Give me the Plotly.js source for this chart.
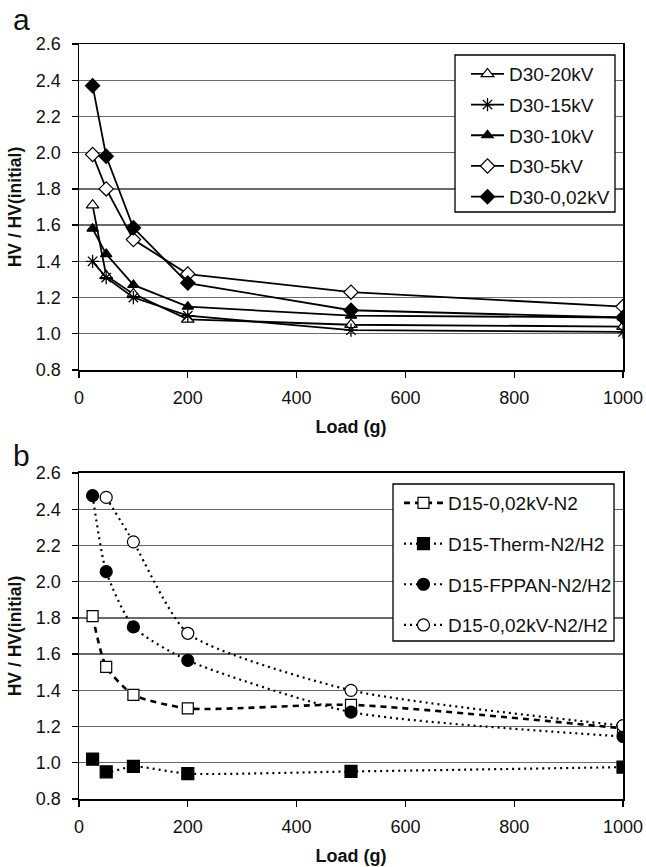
<!DOCTYPE html>
<html>
<head>
<meta charset="utf-8">
<script src="https://cdn.plot.ly/plotly-3.0.1.min.js"></script>
<style>html,body{margin:0;padding:0;background:#fff;}#chart{width:646px;height:867px;}</style>
</head>
<body>
<div id="chart"></div>
<script>
// Load values (g)
const loads = [25, 50, 100, 200, 500, 1000];

// Panel a series
const a_names = ["D30-20kV", "D30-15kV", "D30-10kV", "D30-5kV", "D30-0,02kV"];
const a_20kV  = [1.71, 1.32, 1.22, 1.08, 1.05, 1.04];
const a_15kV  = [1.40, 1.31, 1.20, 1.10, 1.02, 1.01];
const a_10kV  = [1.58, 1.44, 1.27, 1.15, 1.10, 1.09];
const a_5kV   = [1.99, 1.80, 1.52, 1.33, 1.23, 1.15];
const a_002kV = [2.37, 1.98, 1.585, 1.28, 1.13, 1.09];

// Panel b series
const b_names = ["D15-0,02kV-N2", "D15-Therm-N2/H2", "D15-FPPAN-N2/H2", "D15-0,02kV-N2/H2"];
const b_002kV_N2   = [1.81, 1.53, 1.375, 1.30, 1.32, 1.19];
const b_Therm      = [1.02, 0.95, 0.98, 0.94, 0.952, 0.976];
const b_FPPAN      = [2.475, 2.055, 1.75, 1.565, 1.28, 1.145];
const loads_b4     = [50, 100, 200, 500, 1000];
const b_002kV_N2H2 = [2.465, 2.22, 1.715, 1.40, 1.205];

const yTicks = [0.8, 1.0, 1.2, 1.4, 1.6, 1.8, 2.0, 2.2, 2.4, 2.6];
const xTicks = [0, 200, 400, 600, 800, 1000];

const FONT = "Liberation Sans, Arial, Helvetica, sans-serif";

function mk(symbol, filled, size) {
  return {symbol: symbol, size: size, color: filled ? "black" : "white",
          line: {color: "black", width: 1.2}};
}
function traceA(y, name, marker, i) {
  return {x: loads, y: y, name: name, type: "scatter", mode: "lines+markers",
    line: {color: "black", width: 1.8}, marker: marker,
    xaxis: "x", yaxis: "y", legend: "legend", legendgroup: "a" + i};
}
function traceB(x, y, name, marker, dash, width, i) {
  return {x: x, y: y, name: name, type: "scatter", mode: "lines+markers",
    line: {color: "black", width: width, dash: dash, shape: "spline", smoothing: 0.6},
    marker: marker, xaxis: "x2", yaxis: "y2", legend: "legend2", legendgroup: "b" + i};
}

const data = [
  traceA(a_20kV, a_names[0], mk("triangle-up", false, 11), 0),
  traceA(a_15kV, a_names[1], {symbol: "asterisk-open", size: 11, color: "black", line: {color: "black", width: 1.3}}, 1),
  traceA(a_10kV, a_names[2], mk("triangle-up", true, 10), 2),
  traceA(a_5kV, a_names[3], mk("diamond", false, 11), 3),
  traceA(a_002kV, a_names[4], mk("diamond", true, 11), 4),
  traceB(loads, b_002kV_N2, b_names[0], mk("square", false, 11), "6px,5px", 2.6, 0),
  traceB(loads, b_Therm, b_names[1], mk("square", true, 12), "2px,4px", 2.2, 1),
  traceB(loads, b_FPPAN, b_names[2], mk("circle", true, 12), "2px,4px", 2.2, 2),
  traceB(loads_b4, b_002kV_N2H2, b_names[3], mk("circle", false, 12), "2px,4px", 2.2, 3)
];

function xax(anchor) {
  return {range: [0, 1000], tickvals: xTicks, ticktext: xTicks.map(String),
    showgrid: false, zeroline: false, showline: true, linecolor: "black", linewidth: 1.5,
    mirror: true, ticks: "outside", ticklen: 6, tickcolor: "black", tickwidth: 1.3,
    ticklabelstandoff: 5,
    tickfont: {family: FONT, size: 18, color: "#111"},
    title: {text: "<b>Load (g)</b>", font: {family: FONT, size: 18, color: "#111"}, standoff: 13},
    anchor: anchor, fixedrange: true};
}
function yax(domain, anchor) {
  return {range: [0.8, 2.6], domain: domain, tickvals: yTicks, ticktext: yTicks.map(v => v.toFixed(1)),
    showgrid: true, gridcolor: "#6a6a6a", gridwidth: 1.3, zeroline: false,
    showline: true, linecolor: "black", linewidth: 1.5, mirror: true,
    ticks: "outside", ticklen: 6, tickcolor: "black", tickwidth: 1.3, ticklabelstandoff: 7,
    tickfont: {family: FONT, size: 18, color: "#111"},
    title: {text: "<b>HV / HV(initial)</b>", font: {family: FONT, size: 17.5, color: "#111"}, standoff: 9},
    anchor: anchor, fixedrange: true};
}

const legendBase = {bgcolor: "rgba(0,0,0,0)", borderwidth: 0,
  font: {family: FONT, size: 19, color: "#111"}, traceorder: "grouped",
  xanchor: "left", yanchor: "top"};

const layout = {
  width: 646, height: 867,
  margin: {l: 79, r: 23, t: 44, b: 68},
  paper_bgcolor: "white", plot_bgcolor: "white",
  showlegend: true,
  xaxis: xax("y"),
  yaxis: yax([0.5682, 1], "x"),
  xaxis2: xax("y2"),
  yaxis2: yax([0, 0.4318], "x2"),
  legend: Object.assign({}, legendBase, {x: 0.7114, y: 0.9854, tracegroupgap: 3, itemwidth: 33}),
  legend2: Object.assign({}, legendBase, {x: 0.5882, y: 0.4172, tracegroupgap: 13, itemwidth: 39}),
  shapes: [
    {type: "rect", xref: "paper", yref: "paper", x0: 0.6912, x1: 0.9853, y0: 0.7775, y1: 0.9854,
     fillcolor: "white", line: {color: "black", width: 1.3}, layer: "above"},
    {type: "rect", xref: "paper", yref: "paper", x0: 0.5772, x1: 0.9835, y0: 0.2093, y1: 0.4172,
     fillcolor: "white", line: {color: "black", width: 1.3}, layer: "above"}
  ],
  annotations: [
    {text: "a", xref: "paper", yref: "paper", x: -0.1066, y: 1.0331, xanchor: "center", yanchor: "middle",
     showarrow: false, font: {family: FONT, size: 30, color: "#111"}},
    {text: "b", xref: "paper", yref: "paper", x: -0.1066, y: 0.4556, xanchor: "center", yanchor: "middle",
     showarrow: false, font: {family: FONT, size: 30, color: "#111"}}
  ]
};

Plotly.newPlot("chart", data, layout, {displayModeBar: false, staticPlot: true});
</script>
</body>
</html>
